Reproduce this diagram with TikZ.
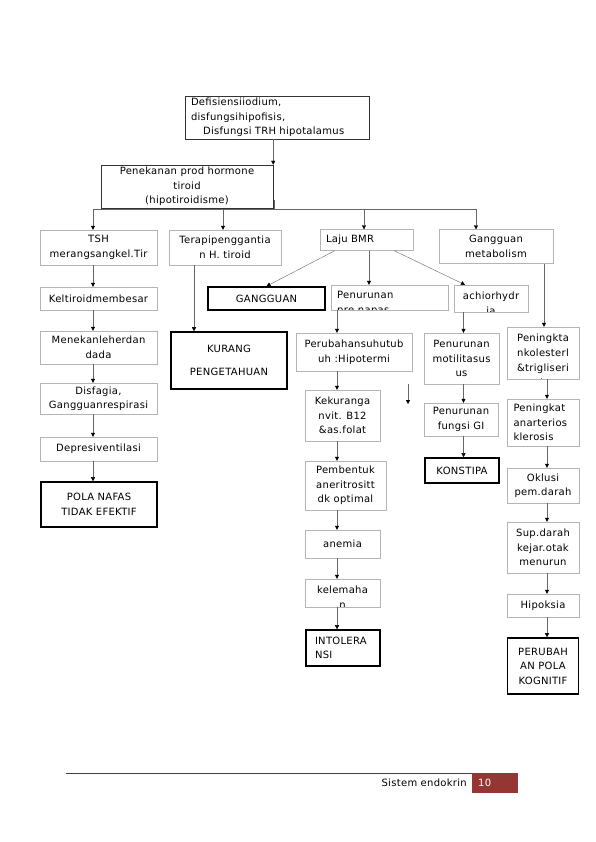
\documentclass[tikz,border=0pt]{standalone}
\usepackage{fontspec}
\setmainfont{DejaVu Sans}[LetterSpace=3]
\usetikzlibrary{arrows.meta}
\definecolor{frame}{HTML}{B4B4B4}
\definecolor{footred}{HTML}{943634}

\begin{document}
\begin{tikzpicture}[x=1pt, y=-1pt,
    font=\fontsize{10}{14.5}\selectfont,
    >={Triangle[length=4pt,width=4pt,color=black]},
    box/.style={draw=frame, inner sep=2pt, align=center},
    dark/.style={draw=black!80, inner sep=2pt, align=center},
    bold/.style={draw=black, line width=1.6pt, inner sep=2pt, align=center},
    link/.style={black!60, ->},
    plain/.style={black!60},
    cuttext/.style={draw=none, minimum width=0pt, minimum height=0pt, inner sep=0pt, font=\fontsize{10}{15}\selectfont},
    cutoff/.style={path picture={\node[cuttext, anchor=north, align=center] at ([yshift=-6.5pt]path picture bounding box.north) {#1};}},
    cutoffl/.style={path picture={\node[cuttext, anchor=north west, align=left] at ([xshift=6pt,yshift=-6.5pt]path picture bounding box.north west) {#1};}}]
    \useasboundingbox (0,0) rectangle (595,842);

    \node[dark, text width=172pt, align=left, minimum width=184pt, minimum height=43pt] (def) at (277, 117.5) {Defisiensiiodium,\\disfungsihipofisis,\\\hspace*{12pt}Disfungsi TRH hipotalamus};
    \node[dark, minimum width=172pt, minimum height=43pt] (tekan) at (187, 186.5) {Penekanan prod hormone\\tiroid\\(hipotiroidisme)};

    \node[box, minimum width=117pt, minimum height=35pt] (tsh) at (98.5, 247.5) {TSH\\merangsangkel.Tir};
    \node[box, minimum width=112pt, minimum height=35pt] (terapi) at (225, 247.5) {Terapipenggantia\\n H. tiroid};
    \node[box, text width=81pt, align=left, minimum width=93pt, minimum height=21pt] (laju) at (366.5, 240) {Laju BMR};
    \node[box, minimum width=114pt, minimum height=34pt] (gmet) at (496, 246.5) {Gangguan\\metabolism};

    % kolom kiri
    \node[box, minimum width=117pt, minimum height=23pt] (kelt) at (98.5, 298.5) {Keltiroidmembesar};
    \node[box, minimum width=117pt, minimum height=33pt] (menekan) at (98.5, 347.5) {Menekanleherdan\\dada};
    \node[box, minimum width=117pt, minimum height=31pt] (disf) at (98.5, 398.5) {Disfagia,\\Gangguanrespirasi};
    \node[box, minimum width=117pt, minimum height=24pt] (dep) at (98.5, 449) {Depresiventilasi};
    \node[bold, minimum width=116pt, minimum height=45pt] (pola) at (99, 504.5) {POLA NAFAS\\TIDAK EFEKTIF};

    \node[bold, minimum width=116pt, minimum height=57pt] (kurang) at (229, 360.5) {KURANG\\[9pt]PENGETAHUAN};
    \node[bold, minimum width=117pt, minimum height=23pt] (gg) at (266.5, 298.5) {GANGGUAN};

    % kolom tengah
    \node[box, minimum width=117pt, minimum height=25pt, cutoffl={Penurunan\\pre.napas}] (pnp) at (389.5, 297.5) {};
    \node[box, minimum width=74pt, minimum height=27pt, cutoff={achiorhydr\\ia}] (achi) at (491, 298.5) {};
    \node[box, minimum width=116pt, minimum height=38pt] (perub) at (354, 352) {Perubahansuhutub\\uh :Hipotermi};
    \node[box, minimum width=75pt, minimum height=51pt] (kek) at (342.5, 415.5) {Kekuranga\\nvit. B12\\\&as.folat};
    \node[box, minimum width=81pt, minimum height=49pt] (pemb) at (345.5, 485.5) {Pembentuk\\aneritrositt\\dk optimal};
    \node[box, minimum width=75pt, minimum height=28pt] (anemia) at (342.5, 544) {anemia};
    \node[box, minimum width=75pt, minimum height=28pt, cutoff={kelemaha\\n}] (lemah) at (342.5, 593) {};
    \node[bold, text width=56pt, align=left, minimum width=74pt, minimum height=36pt] (intol) at (343, 648) {INTOLERA\\NSI};

    \node[box, minimum width=75pt, minimum height=51pt] (motil) at (461.5, 358.5) {Penurunan\\motilitasus\\us};
    \node[box, minimum width=74pt, minimum height=33pt] (fgi) at (461, 419.5) {Penurunan\\fungsi GI};
    \node[bold, minimum width=74pt, minimum height=25pt] (konst) at (462, 470.5) {KONSTIPA};

    % kolom kanan
    \node[box, minimum width=72pt, minimum height=52pt, cutoff={Peningkta\\nkolesterl\\\&trigliseri\\da}] (kol) at (543, 353) {};
    \node[box, text width=59pt, align=left, minimum width=72pt, minimum height=47pt] (art) at (543, 422.5) {Peningkat\\anarterios\\klerosis};
    \node[box, minimum width=72pt, minimum height=35pt] (okl) at (543, 485.5) {Oklusi\\pem.darah};
    \node[box, minimum width=72pt, minimum height=51pt] (sup) at (543, 547.5) {Sup.darah\\kejar.otak\\menurun};
    \node[box, minimum width=72pt, minimum height=23pt] (hip) at (543, 605.5) {Hipoksia};
    \node[bold, minimum width=71pt, minimum height=56pt] (perpk) at (543, 666) {PERUBAH\\AN POLA\\KOGNITIF};

    \coordinate (trunk) at (274, 200);
    \coordinate (bar) at (274, 209);
    \coordinate (b1) at (93, 209);
    \coordinate (b2) at (223, 209);
    \coordinate (b3) at (364, 209);
    \coordinate (b4) at (476, 209);
    \coordinate (cl) at (93, 0);
    \coordinate (ct) at (194, 0);
    \coordinate (cp) at (369, 0);
    \coordinate (cm) at (337, 0);
    \coordinate (cg) at (463.5, 0);
    \coordinate (cq) at (544, 0);
    \coordinate (cr) at (547, 0);
    \coordinate (s1) at (408, 384);
    \coordinate (s2) at (408, 404);

    \draw[link] (def.south -| tekan.north east) to (tekan.north east);
    \draw[plain] (trunk) to (bar);
    \draw[plain] (b1) to (b4);
    \draw[link] (b1) to (b1 |- tsh.north);
    \draw[link] (b2) to (b2 |- terapi.north);
    \draw[link] (b3) to (b3 |- laju.north);
    \draw[link] (b4) to (b4 |- gmet.north);

    \draw[link] (tsh.south -| cl) to (kelt.north -| cl);
    \draw[link] (kelt.south -| cl) to (menekan.north -| cl);
    \draw[link] (menekan.south -| cl) to (disf.north -| cl);
    \draw[link] (disf.south -| cl) to (dep.north -| cl);
    \draw[link] (dep.south -| cl) to (pola.north -| cl);

    \draw[link] (terapi.south -| ct) to (kurang.north -| ct);

    \draw[link] ([xshift=15pt]laju.south west) to (gg.north);
    \draw[link] (laju.south -| cp) to (pnp.north -| cp);
    \draw[link] ([xshift=-19pt]laju.south east) to ([xshift=-26pt]achi.north);

    \draw[link] (pnp.south -| cm) to (perub.north -| cm);
    \draw[link] (perub.south -| cm) to (kek.north -| cm);
    \draw[link] (kek.south -| cm) to (pemb.north -| cm);
    \draw[link] (pemb.south -| cm) to (anemia.north -| cm);
    \draw[link] (anemia.south -| cm) to (lemah.north -| cm);
    \draw[link] (lemah.south -| cm) to (intol.north -| cm);
    \draw[link] (s1) to (s2);

    \draw[link] (achi.south -| cg) to (motil.north -| cg);
    \draw[link] (motil.south -| cg) to (fgi.north -| cg);
    \draw[link] (fgi.south -| cg) to (konst.north -| cg);

    \draw[link] (gmet.south -| cq) to (kol.north -| cq);
    \draw[link] (kol.south -| cr) to (art.north -| cr);
    \draw[link] (art.south -| cr) to (okl.north -| cr);
    \draw[link] (okl.south -| cr) to (sup.north -| cr);
    \draw[link] (sup.south -| cr) to (hip.north -| cr);
    \draw[link] (hip.south -| cr) to (perpk.north -| cr);

    % kaki halaman
    \coordinate (f1) at (66, 773);
    \node[fill=footred, text=white, anchor=north west, inner xsep=6pt, inner ysep=0pt, text width=34pt, align=left, minimum width=46pt, minimum height=20pt] (pg) at (472, 773) {10};
    \node[anchor=east, inner sep=0pt] (foot) at ([xshift=-5pt]pg.west) {Sistem endokrin};
    \draw[black!75, line width=0.8pt] (f1) to (pg.north west);
\end{tikzpicture}
\end{document}
